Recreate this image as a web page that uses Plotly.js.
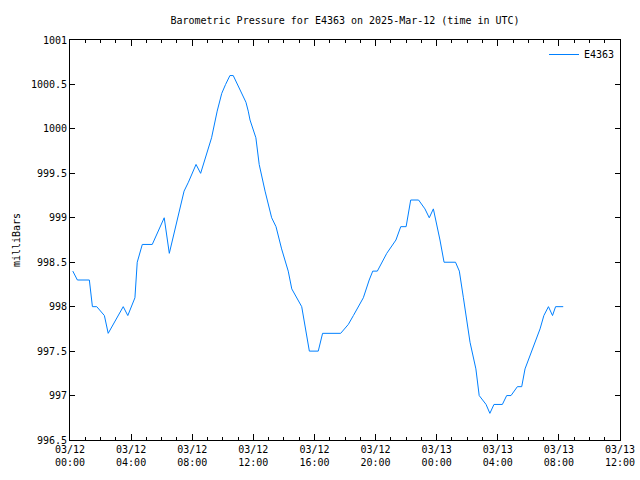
<!DOCTYPE html>
<html>
<head>
<meta charset="utf-8">
<script src="https://cdn.plot.ly/plotly-3.0.1.min.js"></script>
<style>html,body{margin:0;padding:0;background:#fff;}#chart{width:640px;height:480px;}</style>
</head>
<body>
<div id="chart"></div>
<script>
const times = [
  "2025-03-12 00:11","2025-03-12 00:29","2025-03-12 01:16","2025-03-12 01:28","2025-03-12 01:45",
  "2025-03-12 02:15","2025-03-12 02:30","2025-03-12 03:29","2025-03-12 03:47","2025-03-12 04:15",
  "2025-03-12 04:24","2025-03-12 04:44","2025-03-12 05:23","2025-03-12 06:10","2025-03-12 06:30",
  "2025-03-12 06:55","2025-03-12 07:28","2025-03-12 07:45","2025-03-12 08:15","2025-03-12 08:33",
  "2025-03-12 08:53","2025-03-12 09:16","2025-03-12 09:38","2025-03-12 09:56","2025-03-12 10:11",
  "2025-03-12 10:28","2025-03-12 10:41","2025-03-12 11:31","2025-03-12 11:40","2025-03-12 11:47",
  "2025-03-12 12:10","2025-03-12 12:23","2025-03-12 12:46","2025-03-12 13:12","2025-03-12 13:29",
  "2025-03-12 13:51","2025-03-12 14:17","2025-03-12 14:31","2025-03-12 15:10","2025-03-12 15:29",
  "2025-03-12 15:40","2025-03-12 16:15","2025-03-12 16:32","2025-03-12 17:43","2025-03-12 18:13",
  "2025-03-12 18:33","2025-03-12 19:12","2025-03-12 19:35","2025-03-12 19:49","2025-03-12 20:07",
  "2025-03-12 20:44","2025-03-12 21:20","2025-03-12 21:39","2025-03-12 22:00","2025-03-12 22:18",
  "2025-03-12 22:49","2025-03-12 23:14","2025-03-12 23:31","2025-03-12 23:47","2025-03-13 00:13",
  "2025-03-13 00:29","2025-03-13 01:14","2025-03-13 01:29","2025-03-13 01:45","2025-03-13 02:11",
  "2025-03-13 02:34","2025-03-13 02:47","2025-03-13 03:14","2025-03-13 03:29","2025-03-13 03:45",
  "2025-03-13 04:18","2025-03-13 04:35","2025-03-13 04:52","2025-03-13 05:17","2025-03-13 05:34",
  "2025-03-13 05:47","2025-03-13 06:07","2025-03-13 06:26","2025-03-13 06:46","2025-03-13 07:01",
  "2025-03-13 07:19","2025-03-13 07:35","2025-03-13 07:47","2025-03-13 08:17"
];
const pressure = [
  998.4, 998.3, 998.3, 998.0, 998.0,
  997.9, 997.7, 998.0, 997.9, 998.1,
  998.5, 998.7, 998.7, 999.0, 998.6,
  998.9, 999.3, 999.4, 999.6, 999.5,
  999.7, 999.9, 1000.2, 1000.4, 1000.5,
  1000.6, 1000.6, 1000.3, 1000.2, 1000.1,
  999.9, 999.6, 999.3, 999.0, 998.9,
  998.65, 998.4, 998.2, 998.0, 997.7,
  997.5, 997.5, 997.7, 997.7, 997.8,
  997.9, 998.1, 998.3, 998.4, 998.4,
  998.6, 998.75, 998.9, 998.9, 999.2,
  999.2, 999.1, 999.0, 999.1, 998.75,
  998.5, 998.5, 998.4, 998.1, 997.6,
  997.3, 997.0, 996.9, 996.8, 996.9,
  996.9, 997.0, 997.0, 997.1, 997.1,
  997.3, 997.45, 997.6, 997.75, 997.9,
  998.0, 997.9, 998.0, 998.0
];
const seriesName = "E4363";
const xRange = ["2025-03-12 00:00", "2025-03-13 12:00"];
const yRange = [996.5, 1001];

const font = {family: "DejaVu Sans Mono, monospace", size: 10, color: "#000"};

const trace = {
  x: times, y: pressure, type: "scatter", mode: "lines", name: seriesName,
  line: {color: "#0080ff", width: 1}
};

const layout = {
  width: 640, height: 480,
  margin: {l: 70, r: 20, t: 40, b: 40},
  paper_bgcolor: "#fff", plot_bgcolor: "#fff",
  font: font,
  title: {text: "Barometric Pressure for E4363 on 2025-Mar-12 (time in UTC)",
          font: font, x: 345/640, xanchor: "center", y: 1 - 20/480, yanchor: "middle", yref: "container", xref: "container"},
  showlegend: true,
  legend: {x: 1, y: 1, xanchor: "right", yanchor: "top", bgcolor: "rgba(0,0,0,0)",
           font: font, itemwidth: 30, tracegroupgap: 0},
  xaxis: {
    type: "date", range: xRange, dtick: 4*3600*1000, tick0: "2025-03-12 00:00",
    tickformat: "%m/%d<br>%H:%M", showgrid: false, zeroline: false,
    showline: true, linecolor: "#000", linewidth: 1, mirror: "ticks",
    ticks: "inside", ticklen: 6, tickcolor: "#000", tickfont: font,
    minor: {dtick: 3600*1000, ticks: "inside", ticklen: 3, tickcolor: "#000", showgrid: false}
  },
  yaxis: {
    range: yRange, dtick: 0.5, tick0: 996.5, tickformat: "~g", showgrid: false, zeroline: false,
    showline: true, linecolor: "#000", linewidth: 1, mirror: "ticks",
    ticks: "inside", ticklen: 5, tickcolor: "#000", tickfont: font,
    title: {text: "milliBars", font: font, standoff: 8}
  }
};

Plotly.newPlot("chart", [trace], layout, {staticPlot: true, displayModeBar: false});
</script>
</body>
</html>
